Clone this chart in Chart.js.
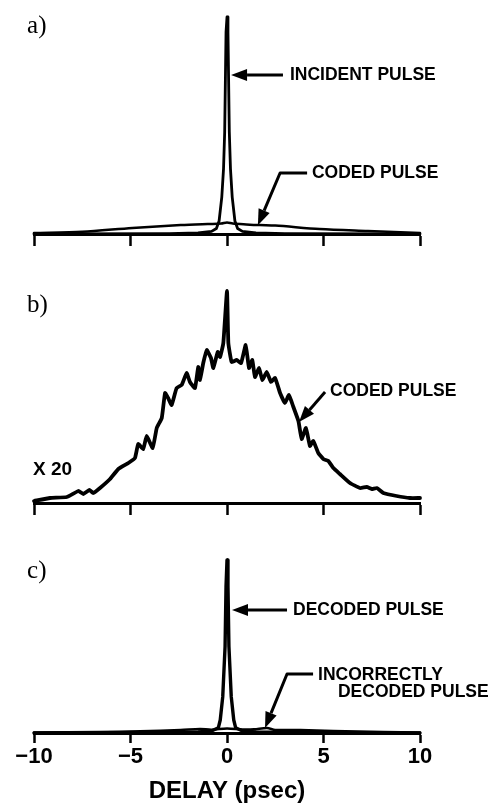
<!DOCTYPE html>
<html>
<head>
<meta charset="utf-8">
<title>Pulse coding</title>
<script src="https://cdn.jsdelivr.net/npm/chart.js@4.4.1/dist/chart.umd.min.js"></script>
<style>
  html, body { margin: 0; padding: 0; background: #fff; }
  #page { position: relative; width: 491px; height: 803px; overflow: hidden; }
  canvas { position: absolute; left: 0; }
</style>
</head>
<body>
<div id="page">
  <canvas id="chartA" width="491" height="248" style="top:0px"></canvas>
  <canvas id="chartB" width="491" height="257" style="top:260px"></canvas>
  <canvas id="chartC" width="491" height="263" style="top:540px"></canvas>
</div>
<script>
// Axis
const delayTicks = [-10, -5, 0, 5, 10];

// a) incident pulse (peak = 100) and the coded pulse on the same scale
const incidentDelay = [-10, -3, -1.5, -0.8, -0.55, -0.41, -0.27, -0.18, -0.12, -0.05, 0, 0.05, 0.12, 0.18, 0.27, 0.41, 0.55, 0.8, 1.5, 3, 10];
const incidentLevel = [0, 0.2, 0.5, 1.2, 2.5, 6, 17, 30, 47, 93, 100, 93, 47, 30, 17, 6, 2.5, 1.2, 0.5, 0.2, 0];
const codedADelay = [-10, -7.5, -4.9, -2.4, -1, -0.3, 0, 0.3, 1, 1.7, 2.5, 4.8, 7.3, 10];
const codedALevel = [0.5, 1, 2.8, 4.1, 4.6, 4.8, 5.3, 4.8, 4.4, 4.1, 3.9, 2.3, 1.4, 0.5];

// b) coded pulse, magnified x20
const codedBDelay = [-10, -9.17, -8.3, -7.7, -7.45, -7.13, -6.93, -6.58, -6.06, -5.63, -5.11, -4.77, -4.6, -4.34, -4.16, -3.85, -3.64, -3.38,
  -3.21, -3.05, -2.87, -2.61, -2.35, -2.09, -1.92, -1.66, -1.49, -1.40, -1.23, -1.05, -0.83, -0.71, -0.48, -0.36, -0.19,
  0, 0.07, 0.24, 0.5, 0.73, 0.97, 1.14, 1.31, 1.45, 1.66, 1.83, 2.06, 2.28, 2.49, 2.75, 3.0, 3.21, 3.44,
  3.7, 3.87, 4.09, 4.3, 4.47, 4.73, 4.99, 5.25, 5.51, 5.85, 6.37, 6.89, 7.24, 7.5, 7.76, 8.1, 8.79, 9.48, 10];
const codedBLevel = [2, 5, 6, 12, 9, 13, 10, 15, 24, 34, 40, 45, 59, 54, 67, 55, 75, 85,
  110, 105, 98, 115, 118, 130, 121, 115, 136, 123, 140, 153, 145, 135, 151, 146, 160,
  212, 160, 141, 143, 140, 158, 135, 143, 126, 135, 123, 131, 121, 125, 110, 100, 108, 96,
  82, 64, 75, 57, 62, 50, 44, 42, 35, 29, 20, 15, 16, 14, 15, 10, 7, 5, 5];

// c) decoded pulse (peak = 100) and incorrectly decoded pulse
const decodedDelay = [-10, -3, -1.5, -0.8, -0.45, -0.35, -0.22, -0.1, -0.05, 0, 0.05, 0.1, 0.22, 0.35, 0.45, 0.8, 1.5, 3, 10];
const decodedLevel = [0, 0.3, 0.6, 1.2, 3, 7.5, 21, 50, 85, 100, 85, 50, 21, 7.5, 3, 1.2, 0.6, 0.3, 0];
const wrongDelay = [-10, -6.6, -4.5, -2.4, -1.4, -0.8, 0, 0.8, 1.4, 2.07, 2.5, 3.8, 5.5, 8.1, 10];
const wrongLevel = [0.3, 0.6, 1.0, 1.7, 2.3, 1.9, 2.6, 2.0, 2.1, 2.9, 1.8, 1.7, 1.2, 0.6, 0.3];

const SANS = '"Liberation Sans", Arial, Helvetica, sans-serif';
const SERIF = '"Liberation Serif", "Times New Roman", serif';
const NOTE_FONT = 'bold 17.5px ' + SANS;
const PANEL_FONT = '25px ' + SERIF;

function toPoints(xs, ys) {
  return xs.map((x, i) => ({ x: x, y: ys[i] }));
}

function lineDataset(xs, ys, width, tension) {
  return {
    data: toPoints(xs, ys),
    borderColor: '#000',
    borderWidth: width,
    pointRadius: 0,
    tension: tension || 0,
    fill: false,
    clip: false,
    borderJoinStyle: 'round',
    borderCapStyle: 'round'
  };
}

function xScale(showLabels, tickLength, axisHeight) {
  return {
    type: 'linear',
    min: -10,
    max: 10,
    afterBuildTicks: (scale) => { scale.ticks = delayTicks.map(v => ({ value: v })); },
    afterFit: (scale) => { scale.height = axisHeight; },
    grid: { drawOnChartArea: false, drawTicks: true, tickLength: tickLength, tickWidth: 2.5, tickColor: '#000' },
    border: { display: true, color: '#000', width: 3 },
    ticks: {
      display: showLabels,
      color: '#000',
      padding: 1,
      maxRotation: 0,
      autoSkip: false,
      font: { family: SANS, size: 22, weight: 'bold' },
      callback: (v) => v < 0 ? '\u2212' + Math.abs(v) : String(v)
    },
    title: {
      display: showLabels,
      text: 'DELAY (psec)',
      color: '#000',
      font: { family: SANS, size: 24, weight: 'bold', lineHeight: 1 },
      padding: { top: 0, bottom: 0 }
    }
  };
}

// labels and arrows, placed in data units
function notesPlugin(notes) {
  return {
    id: 'notes',
    afterDraw(chart) {
      const ctx = chart.ctx;
      const x = chart.scales.x;
      const y = chart.scales.y;
      const px = (p) => [x.getPixelForValue(p[0]), y.getPixelForValue(p[1])];
      ctx.save();
      ctx.fillStyle = '#000';
      ctx.strokeStyle = '#000';

      notes.texts.forEach(t => {
        const pos = px(t.at);
        ctx.font = t.font || NOTE_FONT;
        ctx.textAlign = 'left';
        ctx.textBaseline = t.baseline || 'middle';
        ctx.fillText(t.text, pos[0], pos[1]);
      });

      notes.arrows.forEach(path => {
        const pts = path.map(px);
        const tip = pts[pts.length - 1];
        const prev = pts[pts.length - 2];
        const dx = tip[0] - prev[0];
        const dy = tip[1] - prev[1];
        const len = Math.hypot(dx, dy);
        const ux = dx / len, uy = dy / len;
        const headLen = 16, headHalf = 6;
        const bx = tip[0] - ux * headLen;
        const by = tip[1] - uy * headLen;

        ctx.lineWidth = 3;
        ctx.lineJoin = 'round';
        ctx.beginPath();
        ctx.moveTo(pts[0][0], pts[0][1]);
        for (let i = 1; i < pts.length - 1; i++) ctx.lineTo(pts[i][0], pts[i][1]);
        ctx.lineTo(bx, by);
        ctx.stroke();

        ctx.beginPath();
        ctx.moveTo(tip[0], tip[1]);
        ctx.lineTo(bx - uy * headHalf, by + ux * headHalf);
        ctx.lineTo(bx + uy * headHalf, by - ux * headHalf);
        ctx.closePath();
        ctx.fill();
      });
      ctx.restore();
    }
  };
}

function makeChart(id, datasets, yMax, padTop, showLabels, tickLength, axisHeight, notes) {
  return new Chart(document.getElementById(id), {
    type: 'line',
    data: { datasets: datasets },
    options: {
      responsive: false,
      animation: false,
      devicePixelRatio: 1,
      layout: { padding: { top: padTop, left: 34, right: 71, bottom: 0 } },
      plugins: { legend: { display: false }, tooltip: { enabled: false } },
      scales: {
        x: xScale(showLabels, tickLength, axisHeight),
        y: { type: 'linear', display: false, min: 0, max: yMax }
      }
    },
    plugins: [notesPlugin(notes)]
  });
}

makeChart('chartA', [
  lineDataset(codedADelay, codedALevel, 2.5, 0.3),
  lineDataset(incidentDelay, incidentLevel, 2.8)
], 100, 17, false, 12, 14, {
  texts: [
    { text: 'a)', at: [-10.36, 92.6], font: PANEL_FONT, baseline: 'alphabetic' },
    { text: 'INCIDENT PULSE', at: [3.26, 73.3] },
    { text: 'CODED PULSE', at: [4.4, 28.1] }
  ],
  arrows: [
    [[2.9, 73.3], [0.21, 73.3]],
    [[4.15, 28.1], [2.75, 28.1], [1.6, 4]]
  ]
});

makeChart('chartB', [
  lineDataset(codedBDelay, codedBLevel, 3.8, 0.12)
], 214, 29, false, 12, 14, {
  texts: [
    { text: 'b)', at: [-10.36, 191], font: PANEL_FONT, baseline: 'alphabetic' },
    { text: 'X 20', at: [-10.05, 33], font: 'bold 19px ' + SANS },
    { text: 'CODED PULSE', at: [5.34, 112] }
  ],
  arrows: [
    [[5.08, 111], [3.73, 81]]
  ]
});

makeChart('chartC', [
  lineDataset(wrongDelay, wrongLevel, 2.5, 0.3),
  lineDataset(decodedDelay, decodedLevel, 3.4)
], 100, 20, true, 10, 70, {
  texts: [
    { text: 'c)', at: [-10.36, 89.6], font: PANEL_FONT, baseline: 'alphabetic' },
    { text: 'DECODED PULSE', at: [3.42, 71.1] },
    { text: 'INCORRECTLY', at: [4.72, 33.5] },
    { text: 'DECODED PULSE', at: [5.75, 23.7] }
  ],
  arrows: [
    [[3.11, 71.1], [0.26, 71.1]],
    [[4.46, 34.1], [3.11, 34.1], [1.97, 2.9]]
  ]
});
</script>
</body>
</html>
